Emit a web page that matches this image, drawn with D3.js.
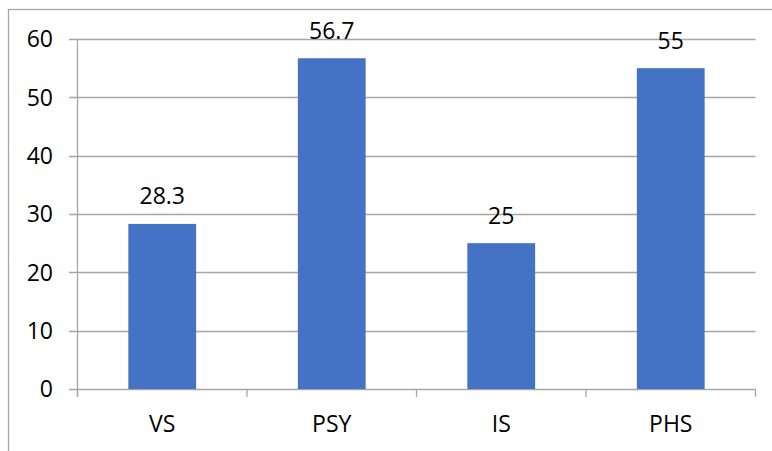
<!DOCTYPE html>
<html>
<head>
<meta charset="utf-8">
<script src="https://cdn.jsdelivr.net/npm/d3@7"></script>
<style>
  html, body { margin: 0; padding: 0; background: #fff; }
  svg { display: block; }
  text { font-family: "Open Sans", "Noto Sans", sans-serif; fill: #000; }
</style>
</head>
<body>
<div id="chart"></div>
<script>
// Scores by group
const categories = ["VS", "PSY", "IS", "PHS"];
const values = [28.3, 56.7, 25, 55];
const valueLabels = ["28.3", "56.7", "25", "55"];
const yTicks = [0, 10, 20, 30, 40, 50, 60];

const W = 772, H = 451;
const plot = { left: 77.5, right: 755.5, top: 39, bottom: 389 };
const barColor = "#4472C4";
const gridColor = "#a6a6a6";
const fontSize = 23;

const svg = d3.select("#chart").append("svg")
  .attr("width", W).attr("height", H);

// chart frame (its right and bottom edges fall outside the view)
svg.append("rect")
  .attr("x", 8.5).attr("y", 9.5)
  .attr("width", 900).attr("height", 600)
  .attr("fill", "none").attr("stroke", "#a6a6a6").attr("stroke-width", 1.3);

const x = d3.scaleBand()
  .domain(categories)
  .range([plot.left, plot.right])
  .paddingInner(0.6).paddingOuter(0.3);

const xEdges = d3.scaleBand()
  .domain(categories)
  .range([plot.left, plot.right]);

const y = d3.scaleLinear()
  .domain([0, 60])
  .range([plot.bottom, plot.top]);

// horizontal gridlines with small left tick extension
svg.append("g").selectAll("line").data(yTicks).join("line")
  .attr("x1", plot.left - 8.5).attr("x2", plot.right)
  .attr("y1", d => Math.round(y(d)) + 0.5).attr("y2", d => Math.round(y(d)) + 0.5)
  .attr("stroke", gridColor).attr("stroke-width", 1.3);

// y-axis line
svg.append("line")
  .attr("x1", plot.left).attr("x2", plot.left)
  .attr("y1", plot.top).attr("y2", plot.bottom + 8)
  .attr("stroke", gridColor).attr("stroke-width", 1.3);

// category separator ticks below the baseline
const edges = categories.map(c => xEdges(c)).concat([plot.right]);
svg.append("g").selectAll("line").data(edges).join("line")
  .attr("x1", d => d).attr("x2", d => d)
  .attr("y1", plot.bottom).attr("y2", plot.bottom + 8)
  .attr("stroke", gridColor).attr("stroke-width", 1.3);

// y tick labels
svg.append("g").selectAll("text").data(yTicks).join("text")
  .attr("x", 53)
  .attr("y", d => y(d))
  .attr("dy", "0.36em")
  .attr("text-anchor", "end")
  .attr("font-size", fontSize)
  .text(d => d);

// bars
svg.append("g").selectAll("rect").data(values).join("rect")
  .attr("x", (d, i) => x(categories[i]))
  .attr("width", x.bandwidth())
  .attr("y", d => y(d))
  .attr("height", d => y(0) - y(d))
  .attr("fill", barColor);

// value labels
svg.append("g").selectAll("text").data(values).join("text")
  .attr("x", (d, i) => x(categories[i]) + x.bandwidth() / 2)
  .attr("y", d => y(d) - 19.5)
  .attr("text-anchor", "middle")
  .attr("font-size", fontSize)
  .text((d, i) => valueLabels[i]);

// category labels
svg.append("g").selectAll("text").data(categories).join("text")
  .attr("x", d => xEdges(d) + xEdges.bandwidth() / 2)
  .attr("y", 432)
  .attr("text-anchor", "middle")
  .attr("font-size", fontSize)
  .text(d => d);
</script>
</body>
</html>
